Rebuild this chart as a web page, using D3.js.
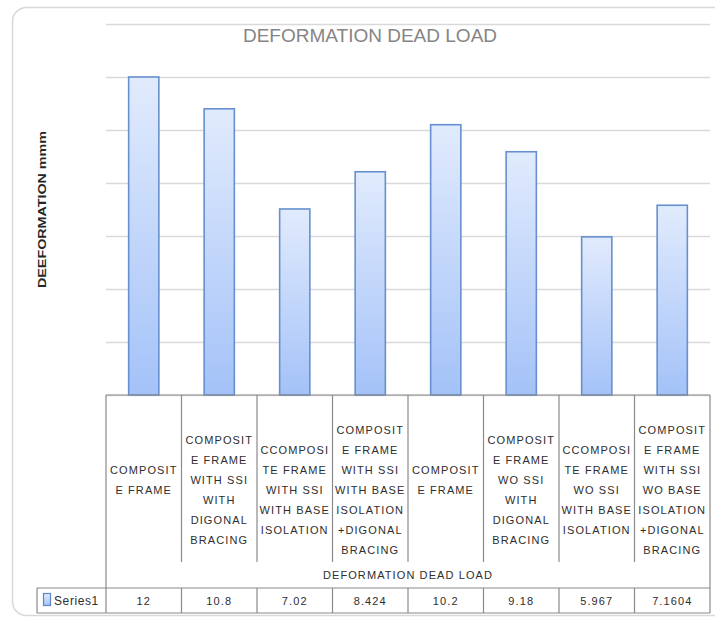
<!DOCTYPE html>
<html>
<head>
<meta charset="utf-8">
<script src="https://cdn.jsdelivr.net/npm/d3@7/dist/d3.min.js"></script>
<style>
	body { margin: 0; background: #fff; }
	svg { display: block; }
	.cell { font-family: "Liberation Sans", Arial, sans-serif; font-size: 11px; letter-spacing: 1.1px; fill: #2e2e2e; }
</style>
</head>
<body>
<div id="chart"></div>
<script>
(function (d3) {
	'use strict';

	// DATA
	const categories = [
		"COMPOSITE FRAME",
		"COMPOSITE FRAME WITH SSI WITH DIGONAL BRACING",
		"CCOMPOSITE FRAME WITH SSI WITH BASE ISOLATION",
		"COMPOSITE FRAME WITH SSI WITH BASE ISOLATION +DIGONAL BRACING",
		"COMPOSITE FRAME",
		"COMPOSITE FRAME WO SSI WITH DIGONAL BRACING",
		"CCOMPOSITE FRAME WO SSI WITH BASE ISOLATION",
		"COMPOSITE FRAME WITH SSI WO BASE ISOLATION +DIGONAL BRACING"
	];
	// wrapped lines as shown in the table cells
	const categoryLines = [
		["COMPOSIT", "E FRAME"],
		["COMPOSIT", "E FRAME", "WITH SSI", "WITH", "DIGONAL", "BRACING"],
		["CCOMPOSI", "TE FRAME", "WITH SSI", "WITH BASE", "ISOLATION"],
		["COMPOSIT", "E FRAME", "WITH SSI", "WITH BASE", "ISOLATION", "+DIGONAL", "BRACING"],
		["COMPOSIT", "E FRAME"],
		["COMPOSIT", "E FRAME", "WO SSI", "WITH", "DIGONAL", "BRACING"],
		["CCOMPOSI", "TE FRAME", "WO SSI", "WITH BASE", "ISOLATION"],
		["COMPOSIT", "E FRAME", "WITH SSI", "WO BASE", "ISOLATION", "+DIGONAL", "BRACING"]
	];
	const series1 = [12, 10.8, 7.02, 8.424, 10.2, 9.18, 5.967, 7.1604];
	const valueLabels = ["12", "10.8", "7.02", "8.424", "10.2", "9.18", "5.967", "7.1604"];
	const yTicks = [0, 2, 4, 6, 8, 10, 12, 14];
	const seriesName = "Series1";
	const chartTitle = "DEFORMATION DEAD LOAD";
	const xTitle = "DEFORMATION DEAD LOAD";
	const yTitle = "DEEFORMATION mmm";

	const width = 715, height = 619;
	const plot = { left: 106, right: 710, top: 24, bottom: 395 };
	const table = { catBottom: 562, titleBottom: 588, bottom: 613, legendLeft: 37 };

	const svg = d3.select("#chart").append("svg")
		.attr("width", width).attr("height", height);

	// gradient for bars
	const defs = svg.append("defs");
	const grad = defs.append("linearGradient")
		.attr("id", "barGrad").attr("x1", 0).attr("y1", 0).attr("x2", 0).attr("y2", 1);
	grad.append("stop").attr("offset", "0%").attr("stop-color", "#e1ebfd");
	grad.append("stop").attr("offset", "100%").attr("stop-color", "#a4c2f8");

	// chart frame
	svg.append("rect")
		.attr("x", 12.5).attr("y", 7.5)
		.attr("width", 740).attr("height", 608)
		.attr("rx", 14)
		.attr("fill", "none")
		.attr("stroke", "#d9d9d9")
		.attr("stroke-width", 1.5);

	// scales
	const xScale = d3.scaleBand()
		.domain(d3.range(categories.length))
		.range([plot.left, plot.right])
		.padding(0);
	const yScale = d3.scaleLinear()
		.domain([0, d3.max(yTicks)])
		.range([plot.bottom, plot.top]);

	// gridlines
	const yAxis = d3.axisLeft(yScale)
		.tickValues(yTicks)
		.tickSize(-(plot.right - plot.left))
		.tickFormat("");
	const yAxisG = svg.append("g")
		.attr("transform", `translate(${plot.left},0)`)
		.call(yAxis);
	yAxisG.select(".domain").remove();
	yAxisG.selectAll(".tick line")
		.attr("stroke", "#d9d9d9")
		.attr("stroke-width", 1.3);

	// title
	svg.append("text")
		.attr("x", 370).attr("y", 42)
		.attr("text-anchor", "middle")
		.style("font-family", "'Liberation Sans', Arial, sans-serif")
		.style("font-size", "19px")
		.style("fill", "#858585")
		.text(chartTitle);

	// y axis title
	svg.append("text")
		.attr("transform", `translate(46,${(plot.top + plot.bottom) / 2}) rotate(-90)`)
		.attr("text-anchor", "middle")
		.attr("textLength", 157)
		.attr("lengthAdjust", "spacingAndGlyphs")
		.style("font-family", "'Liberation Sans', Arial, sans-serif")
		.style("font-size", "11.5px")
		.style("font-weight", "bold")
		.style("fill", "#262626")
		.text(yTitle);

	// bars
	const barW = xScale.bandwidth() / 2.5;
	svg.append("g").selectAll("rect")
		.data(series1)
		.enter().append("rect")
		.attr("x", (d, i) => xScale(i) + (xScale.bandwidth() - barW) / 2)
		.attr("y", d => yScale(d))
		.attr("width", barW)
		.attr("height", d => yScale(0) - yScale(d))
		.attr("fill", "url(#barGrad)")
		.attr("stroke", "#6690cf")
		.attr("stroke-width", 1.6);

	// data table
	const lineColor = "#8a8a8a";
	const tg = svg.append("g");
	const hLine = (x1, x2, y) => tg.append("line")
		.attr("x1", x1).attr("x2", x2).attr("y1", y).attr("y2", y)
		.attr("stroke", lineColor).attr("stroke-width", 1.2);
	const vLine = (x, y1, y2) => tg.append("line")
		.attr("x1", x).attr("x2", x).attr("y1", y1).attr("y2", y2)
		.attr("stroke", lineColor).attr("stroke-width", 1.2);

	hLine(plot.left, plot.right, plot.bottom);
	hLine(table.legendLeft, plot.right, table.titleBottom);
	hLine(table.legendLeft, plot.right, table.bottom);
	vLine(table.legendLeft, table.titleBottom, table.bottom);
	vLine(plot.left, plot.bottom, table.bottom);
	vLine(plot.right, plot.bottom, table.bottom);
	categories.forEach((c, i) => {
		if (i > 0) {
			vLine(xScale(i), plot.bottom, table.catBottom);
			vLine(xScale(i), table.titleBottom, table.bottom);
		}
	});

	// category labels
	const lineH = 20;
	categories.forEach((c, i) => {
		const lines = categoryLines[i];
		const cx = xScale(i) + xScale.bandwidth() / 2;
		const cy = lines.length > 2 ? 489.5 : 480;
		const y0 = cy - (lines.length - 1) * lineH / 2;
		const t = tg.append("text")
			.attr("class", "cell")
			.attr("text-anchor", "middle");
		lines.forEach((l, j) => {
			t.append("tspan")
				.attr("x", cx)
				.attr("y", y0 + j * lineH + 4)
				.text(l);
		});
	});

	// x axis title row
	tg.append("text")
		.attr("class", "cell")
		.attr("x", (plot.left + plot.right) / 2)
		.attr("y", 579)
		.attr("text-anchor", "middle")
		.text(xTitle);

	// values row
	tg.selectAll("text.val")
		.data(valueLabels)
		.enter().append("text")
		.attr("class", "cell val")
		.attr("x", (d, i) => xScale(i) + xScale.bandwidth() / 2)
		.attr("y", 605)
		.attr("text-anchor", "middle")
		.text(d => d);

	// legend key
	tg.append("rect")
		.attr("x", 43.5).attr("y", 593.5)
		.attr("width", 7).attr("height", 12)
		.attr("fill", "url(#barGrad)")
		.attr("stroke", "#5a86c8")
		.attr("stroke-width", 1.2);
	tg.append("text")
		.attr("class", "cell")
		.attr("x", 54).attr("y", 605)
		.style("font-size", "12px")
		.style("letter-spacing", "0.6px")
		.text(seriesName);
}(d3));
</script>
</body>
</html>
